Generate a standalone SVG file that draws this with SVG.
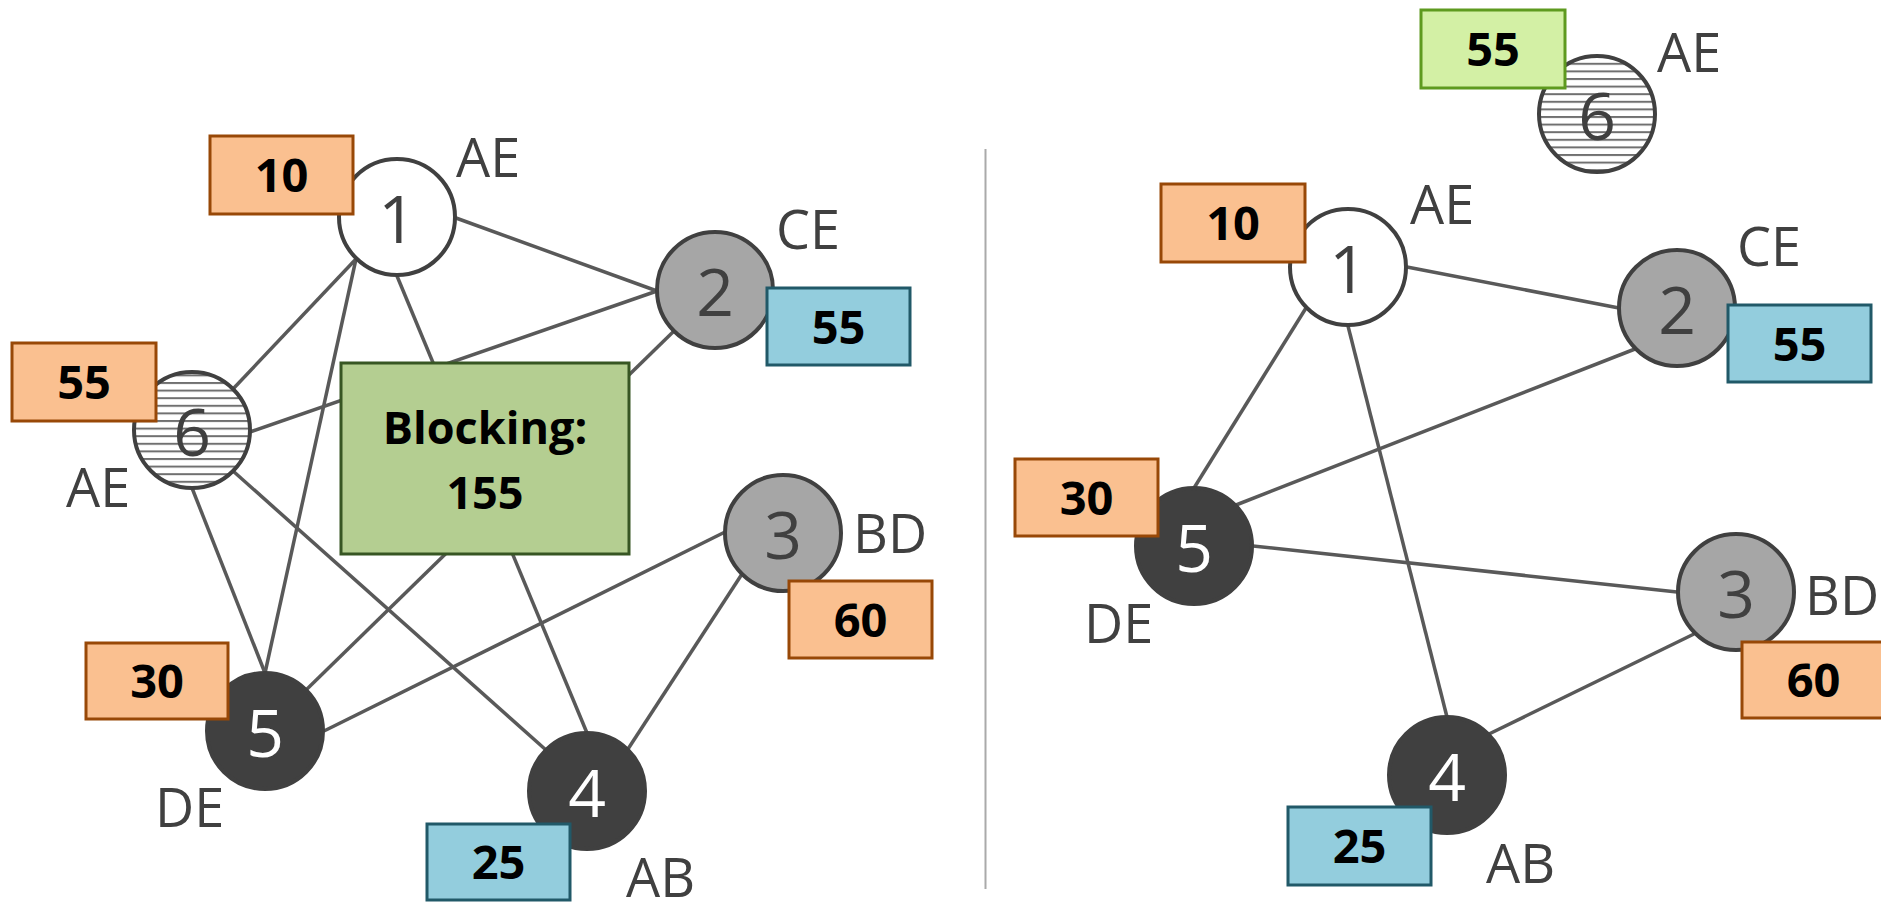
<svg xmlns="http://www.w3.org/2000/svg" width="1881" height="902" viewBox="0 0 1881 902">
<defs>
<pattern id="stripes" patternUnits="userSpaceOnUse" width="20" height="7.6" y="2">
<rect width="20" height="7.6" fill="#ffffff"/>
<rect y="0" width="20" height="2" fill="#707070"/>
</pattern>
<style>
.edge{stroke:#595959;stroke-width:3.5;fill:none}
.nd{stroke:#404040;stroke-width:4}
.white{fill:#ffffff}
.grey{fill:#a6a6a6}
.dark{fill:#404040}
.hatch{fill:url(#stripes)}
.num{font-family:"Open Sans","Liberation Sans",sans-serif;font-size:66px;text-anchor:middle;fill:#404040}
.num.inv{fill:#ffffff}
.lbl{font-family:"Open Sans","Liberation Sans",sans-serif;font-size:54px;fill:#404040}
.orange{fill:#fac090;stroke:#984807;stroke-width:3}
.blue{fill:#93cddd;stroke:#215968;stroke-width:3}
.lgreen{fill:#d3f0a5;stroke:#5e9a1f;stroke-width:3}
.block{fill:#b4ce91;stroke:#375623;stroke-width:3}
.val{font-family:"Open Sans","Liberation Sans",sans-serif;font-weight:bold;font-size:47px;text-anchor:middle;fill:#000000}
.btxt{font-family:"Open Sans","Liberation Sans",sans-serif;font-weight:bold;font-size:45px;text-anchor:middle;fill:#000000}
</style>
</defs>
<rect width="1881" height="902" fill="#ffffff"/>
<line x1="985.5" y1="149" x2="985.5" y2="889" stroke="#aaaaaa" stroke-width="2"/>

<g id="connectors">
<line class="edge" x1="456" y1="218" x2="657" y2="291"/>
<line class="edge" x1="356" y1="259" x2="233" y2="389"/>
<line class="edge" x1="356" y1="259" x2="265" y2="673"/>
<line class="edge" x1="397" y1="276" x2="587" y2="733"/>
<line class="edge" x1="657" y1="291" x2="250" y2="432"/>
<line class="edge" x1="674" y1="331" x2="306" y2="690"/>
<line class="edge" x1="192" y1="488" x2="265" y2="673"/>
<line class="edge" x1="233" y1="471" x2="546" y2="750"/>
<line class="edge" x1="324" y1="731" x2="725" y2="532"/>
<line class="edge" x1="628" y1="749" x2="742" y2="574"/>
<line class="edge" x1="1407" y1="267" x2="1619" y2="308"/>
<line class="edge" x1="1306" y1="308" x2="1194" y2="488"/>
<line class="edge" x1="1348" y1="326" x2="1447" y2="717"/>
<line class="edge" x1="1635" y1="349" x2="1236" y2="505"/>
<line class="edge" x1="1253" y1="546" x2="1677" y2="592"/>
<line class="edge" x1="1489" y1="734" x2="1694" y2="634"/>
</g>

<g id="L1"><circle class="nd white" cx="397" cy="217" r="58"/><text class="num" x="397" y="243">1</text></g>
<g id="L2"><circle class="nd grey" cx="715" cy="290" r="58"/><text class="num" x="715" y="316">2</text></g>
<g id="L3"><circle class="nd grey" cx="783" cy="533" r="58"/><text class="num" x="783" y="559">3</text></g>
<g id="L4"><circle class="nd dark" cx="587" cy="791" r="58"/><text class="num inv" x="587" y="817">4</text></g>
<g id="L5"><circle class="nd dark" cx="265" cy="731" r="58"/><text class="num inv" x="265" y="757">5</text></g>
<g id="L6"><circle class="nd hatch" cx="192" cy="430" r="58"/><text class="num" x="192" y="456">6</text></g>

<g id="Lblock"><rect class="block" x="341" y="363" width="288" height="191"/>
<text class="btxt" x="485" y="444">Blocking:</text><text class="btxt" x="485" y="509">155</text></g>

<g id="Lv1"><rect class="orange" x="210" y="136" width="143" height="78"/><text class="val" x="281.5" y="192">10</text></g>
<g id="Lv6"><rect class="orange" x="12" y="343" width="144" height="78"/><text class="val" x="84" y="399">55</text></g>
<g id="Lv2"><rect class="blue" x="767" y="288" width="143" height="77"/><text class="val" x="838.5" y="344">55</text></g>
<g id="Lv3"><rect class="orange" x="789" y="581" width="143" height="77"/><text class="val" x="860.5" y="637">60</text></g>
<g id="Lv5"><rect class="orange" x="86" y="643" width="142" height="76"/><text class="val" x="157" y="698">30</text></g>
<g id="Lv4"><rect class="blue" x="427" y="824" width="143" height="76"/><text class="val" x="498.5" y="879">25</text></g>

<g id="Llabels">
<text class="lbl" x="456" y="177">AE</text>
<text class="lbl" x="776" y="249">CE</text>
<text class="lbl" x="66" y="507">AE</text>
<text class="lbl" x="853" y="553">BD</text>
<text class="lbl" x="155" y="827">DE</text>
<text class="lbl" x="626" y="897">AB</text>
</g>

<g id="R1"><circle class="nd white" cx="1348" cy="267" r="58"/><text class="num" x="1348" y="293">1</text></g>
<g id="R2"><circle class="nd grey" cx="1677" cy="308" r="58"/><text class="num" x="1677" y="334">2</text></g>
<g id="R3"><circle class="nd grey" cx="1736" cy="592" r="58"/><text class="num" x="1736" y="618">3</text></g>
<g id="R4"><circle class="nd dark" cx="1447" cy="775" r="58"/><text class="num inv" x="1447" y="801">4</text></g>
<g id="R5"><circle class="nd dark" cx="1194" cy="546" r="58"/><text class="num inv" x="1194" y="572">5</text></g>
<g id="R6"><circle class="nd hatch" cx="1597" cy="114" r="58"/><text class="num" x="1597" y="140">6</text></g>

<g id="Rv6"><rect class="lgreen" x="1421" y="10" width="144" height="78"/><text class="val" x="1493" y="66">55</text></g>
<g id="Rv1"><rect class="orange" x="1161" y="184" width="144" height="78"/><text class="val" x="1233" y="240">10</text></g>
<g id="Rv2"><rect class="blue" x="1728" y="305" width="143" height="77"/><text class="val" x="1799.5" y="361">55</text></g>
<g id="Rv5"><rect class="orange" x="1015" y="459" width="143" height="77"/><text class="val" x="1086.5" y="515">30</text></g>
<g id="Rv3"><rect class="orange" x="1742" y="642" width="143" height="76"/><text class="val" x="1813.5" y="697">60</text></g>
<g id="Rv4"><rect class="blue" x="1288" y="807" width="143" height="78"/><text class="val" x="1359.5" y="863">25</text></g>

<g id="Rlabels">
<text class="lbl" x="1657" y="72">AE</text>
<text class="lbl" x="1410" y="224">AE</text>
<text class="lbl" x="1737" y="266">CE</text>
<text class="lbl" x="1084" y="643">DE</text>
<text class="lbl" x="1805" y="615">BD</text>
<text class="lbl" x="1486" y="883">AB</text>
</g>
</svg>
